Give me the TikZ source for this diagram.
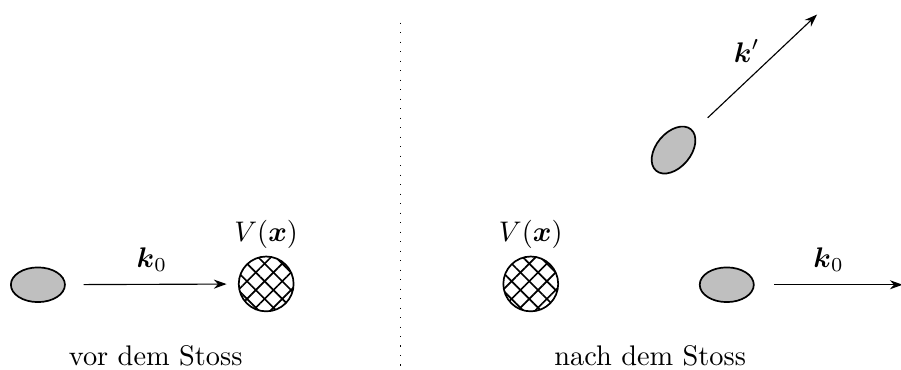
\documentclass[tikz,border=0pt]{standalone}
\usepackage{amsmath,amssymb}
\usepackage{xcolor}
\usepackage{tikz}
\usetikzlibrary{arrows.meta, positioning, shapes.geometric, patterns.meta}

\begin{document}
\begin{tikzpicture}[>={Stealth[length=4.5pt,width=3.2pt]},
  ball/.style={ellipse, draw, semithick, fill=lightgray, minimum width=0.67cm, minimum height=0.43cm, inner sep=0pt},
  pot/.style={circle, draw, semithick, minimum size=0.68cm, inner sep=0pt,
    pattern={Lines[angle=45,distance=4.4pt,line width=0.6pt]},
    preaction={pattern={Lines[angle=-45,distance=4.4pt,line width=0.6pt]}}}]
\useasboundingbox (0,0) rectangle (11.17,4.58);
% Potential links und rechts
\foreach \x/\n in {3.30/A,6.58/B} {
  \node[pot] (pot\n) at (\x,1.06) {};
  \node (lab\n) at (\x,1.67) {$V(\boldsymbol{x})$};
}
% vor dem Stoss
\node[ball] (ballA) at (0.47,1.05) {};
\draw[->, shorten <=0.22cm, shorten >=0.14cm] (ballA) -- (potA)
  node[midway, above=1pt] {$\boldsymbol{k}_0$};
\node (textA) at (1.93,0.17) {vor dem Stoss};
% Trennlinie
\coordinate (top) at (4.97,4.30);
\coordinate (bot) at (4.97,0);
\draw[dash pattern=on 0.4pt off 2.95pt] (top) -- (bot);
% nach dem Stoss
\node[ball] (ballB) at (9.01,1.05) {};
\coordinate (outB) at (11.19,1.05);
\draw[->, shorten <=0.24cm] (ballB) -- (outB)
  node[midway, above=1pt] {$\boldsymbol{k}_0$};
\node[ball, rotate=50] (ballC) at (8.35,2.72) {};
\coordinate (outC) at (10.13,4.40);
\draw[->, shorten <=0.24cm] (ballC) -- (outC)
  node[midway, anchor=south east, xshift=5pt] {$\boldsymbol{k}'$};
\node (textB) at (8.06,0.17) {nach dem Stoss};
\end{tikzpicture}
\end{document}
